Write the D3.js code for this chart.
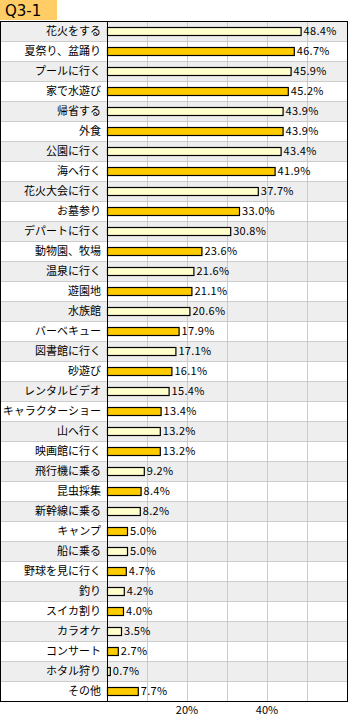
<!DOCTYPE html>
<html>
<head>
<meta charset="utf-8">
<script src="https://cdn.jsdelivr.net/npm/d3@7"></script>
<style>
  body { margin: 0; background: #fff; }
  text { font-family: "Noto Sans CJK JP", "DejaVu Sans", sans-serif; }
</style>
</head>
<body>
<div id="chart"></div>
<script>
// categories, top to bottom
const categories = ["花火をする","夏祭り、盆踊り","プールに行く","家で水遊び","帰省する","外食","公園に行く","海へ行く",
  "花火大会に行く","お墓参り","デパートに行く","動物園、牧場","温泉に行く","遊園地","水族館","バーベキュー",
  "図書館に行く","砂遊び","レンタルビデオ","キャラクターショー","山へ行く","映画館に行く","飛行機に乗る","昆虫採集",
  "新幹線に乗る","キャンプ","船に乗る","野球を見に行く","釣り","スイカ割り","カラオケ","コンサート","ホタル狩り","その他"];
const values = [48.4,46.7,45.9,45.2,43.9,43.9,43.4,41.9,37.7,33.0,30.8,23.6,21.6,21.1,20.6,17.9,
  17.1,16.1,15.4,13.4,13.2,13.2,9.2,8.4,8.2,5.0,5.0,4.7,4.2,4.0,3.5,2.7,0.7,7.7];
const tickValues = [20, 40];
const title = "Q3-1";

const width = 348, height = 717;
const margin = {top: 21, left: 107, right: 1, bottom: 16};

var svg = d3.select("#chart").append("svg")
    .attr("width", width)
    .attr("height", height);

var x = d3.scaleLinear().domain([0, 60]).range([margin.left, width - margin.right]);
var y = d3.scaleBand().domain(categories).range([margin.top, height - margin.bottom]);

// title box
svg.append("rect")
    .attr("x", 0).attr("y", 0)
    .attr("width", 57).attr("height", 20)
    .attr("fill", "#ffcc66");
svg.append("text")
    .attr("x", 5).attr("y", 16)
    .style("font-family", "'DejaVu Sans', sans-serif")
    .style("font-size", "15px")
    .attr("fill", "#000")
    .text(title);

// row backgrounds
svg.selectAll(".rowbg")
  .data(categories)
  .enter().append("rect")
    .attr("class", "rowbg")
    .attr("x", 1)
    .attr("y", d => y(d))
    .attr("width", width - 2)
    .attr("height", y.bandwidth())
    .attr("fill", (d, i) => i % 2 === 0 ? "#eeeeee" : "#ffffff");

// row separators
svg.selectAll(".rowline")
  .data(categories.slice(1))
  .enter().append("line")
    .attr("x1", 1).attr("x2", width - 1)
    .attr("y1", d => y(d) + 0.5).attr("y2", d => y(d) + 0.5)
    .attr("stroke", "#cccccc");

// vertical grid
svg.selectAll(".vgrid")
  .data([10, 20, 30, 40, 50])
  .enter().append("line")
    .attr("x1", d => Math.round(x(d)) + 0.5).attr("x2", d => Math.round(x(d)) + 0.5)
    .attr("y1", margin.top).attr("y2", height - margin.bottom)
    .attr("stroke", "#cccccc");

// labels
svg.selectAll(".cat")
  .data(categories)
  .enter().append("text")
    .attr("x", margin.left - 6)
    .attr("y", d => y(d) + y.bandwidth() / 2 + 4)
    .attr("text-anchor", "end")
    .style("font-size", "11px")
    .text(d => d);

// bars
svg.selectAll(".bar")
  .data(values)
  .enter().append("rect")
    .attr("x", x(0) + 0.5)
    .attr("y", (d, i) => y(categories[i]) + 6.5)
    .attr("width", d => x(d) - x(0))
    .attr("height", 8)
    .attr("fill", (d, i) => i % 2 === 0 ? "#ffffcc" : "#ffcc00")
    .attr("stroke", "#000")
    .attr("stroke-width", 1.2);

// value labels
svg.selectAll(".val")
  .data(values)
  .enter().append("text")
    .attr("x", d => x(d) + 3)
    .attr("y", (d, i) => y(categories[i]) + y.bandwidth() / 2 + 4)
    .style("font-size", "11px")
    .style("letter-spacing", "0.3px")
    .text(d => d.toFixed(1) + "%");

// frame
svg.append("rect")
    .attr("x", 0.5).attr("y", margin.top + 0.5)
    .attr("width", width - 1).attr("height", height - margin.bottom - margin.top)
    .attr("fill", "none")
    .attr("stroke", "#000");
svg.append("line")
    .attr("x1", margin.left + 0.5).attr("x2", margin.left + 0.5)
    .attr("y1", margin.top).attr("y2", height - margin.bottom)
    .attr("stroke", "#000");

// x ticks
svg.selectAll(".tick")
  .data(tickValues)
  .enter().append("text")
    .attr("x", d => x(d))
    .attr("y", height - 3)
    .attr("text-anchor", "middle")
    .style("font-size", "11px")
    .text(d => d + "%");
</script>
</body>
</html>
